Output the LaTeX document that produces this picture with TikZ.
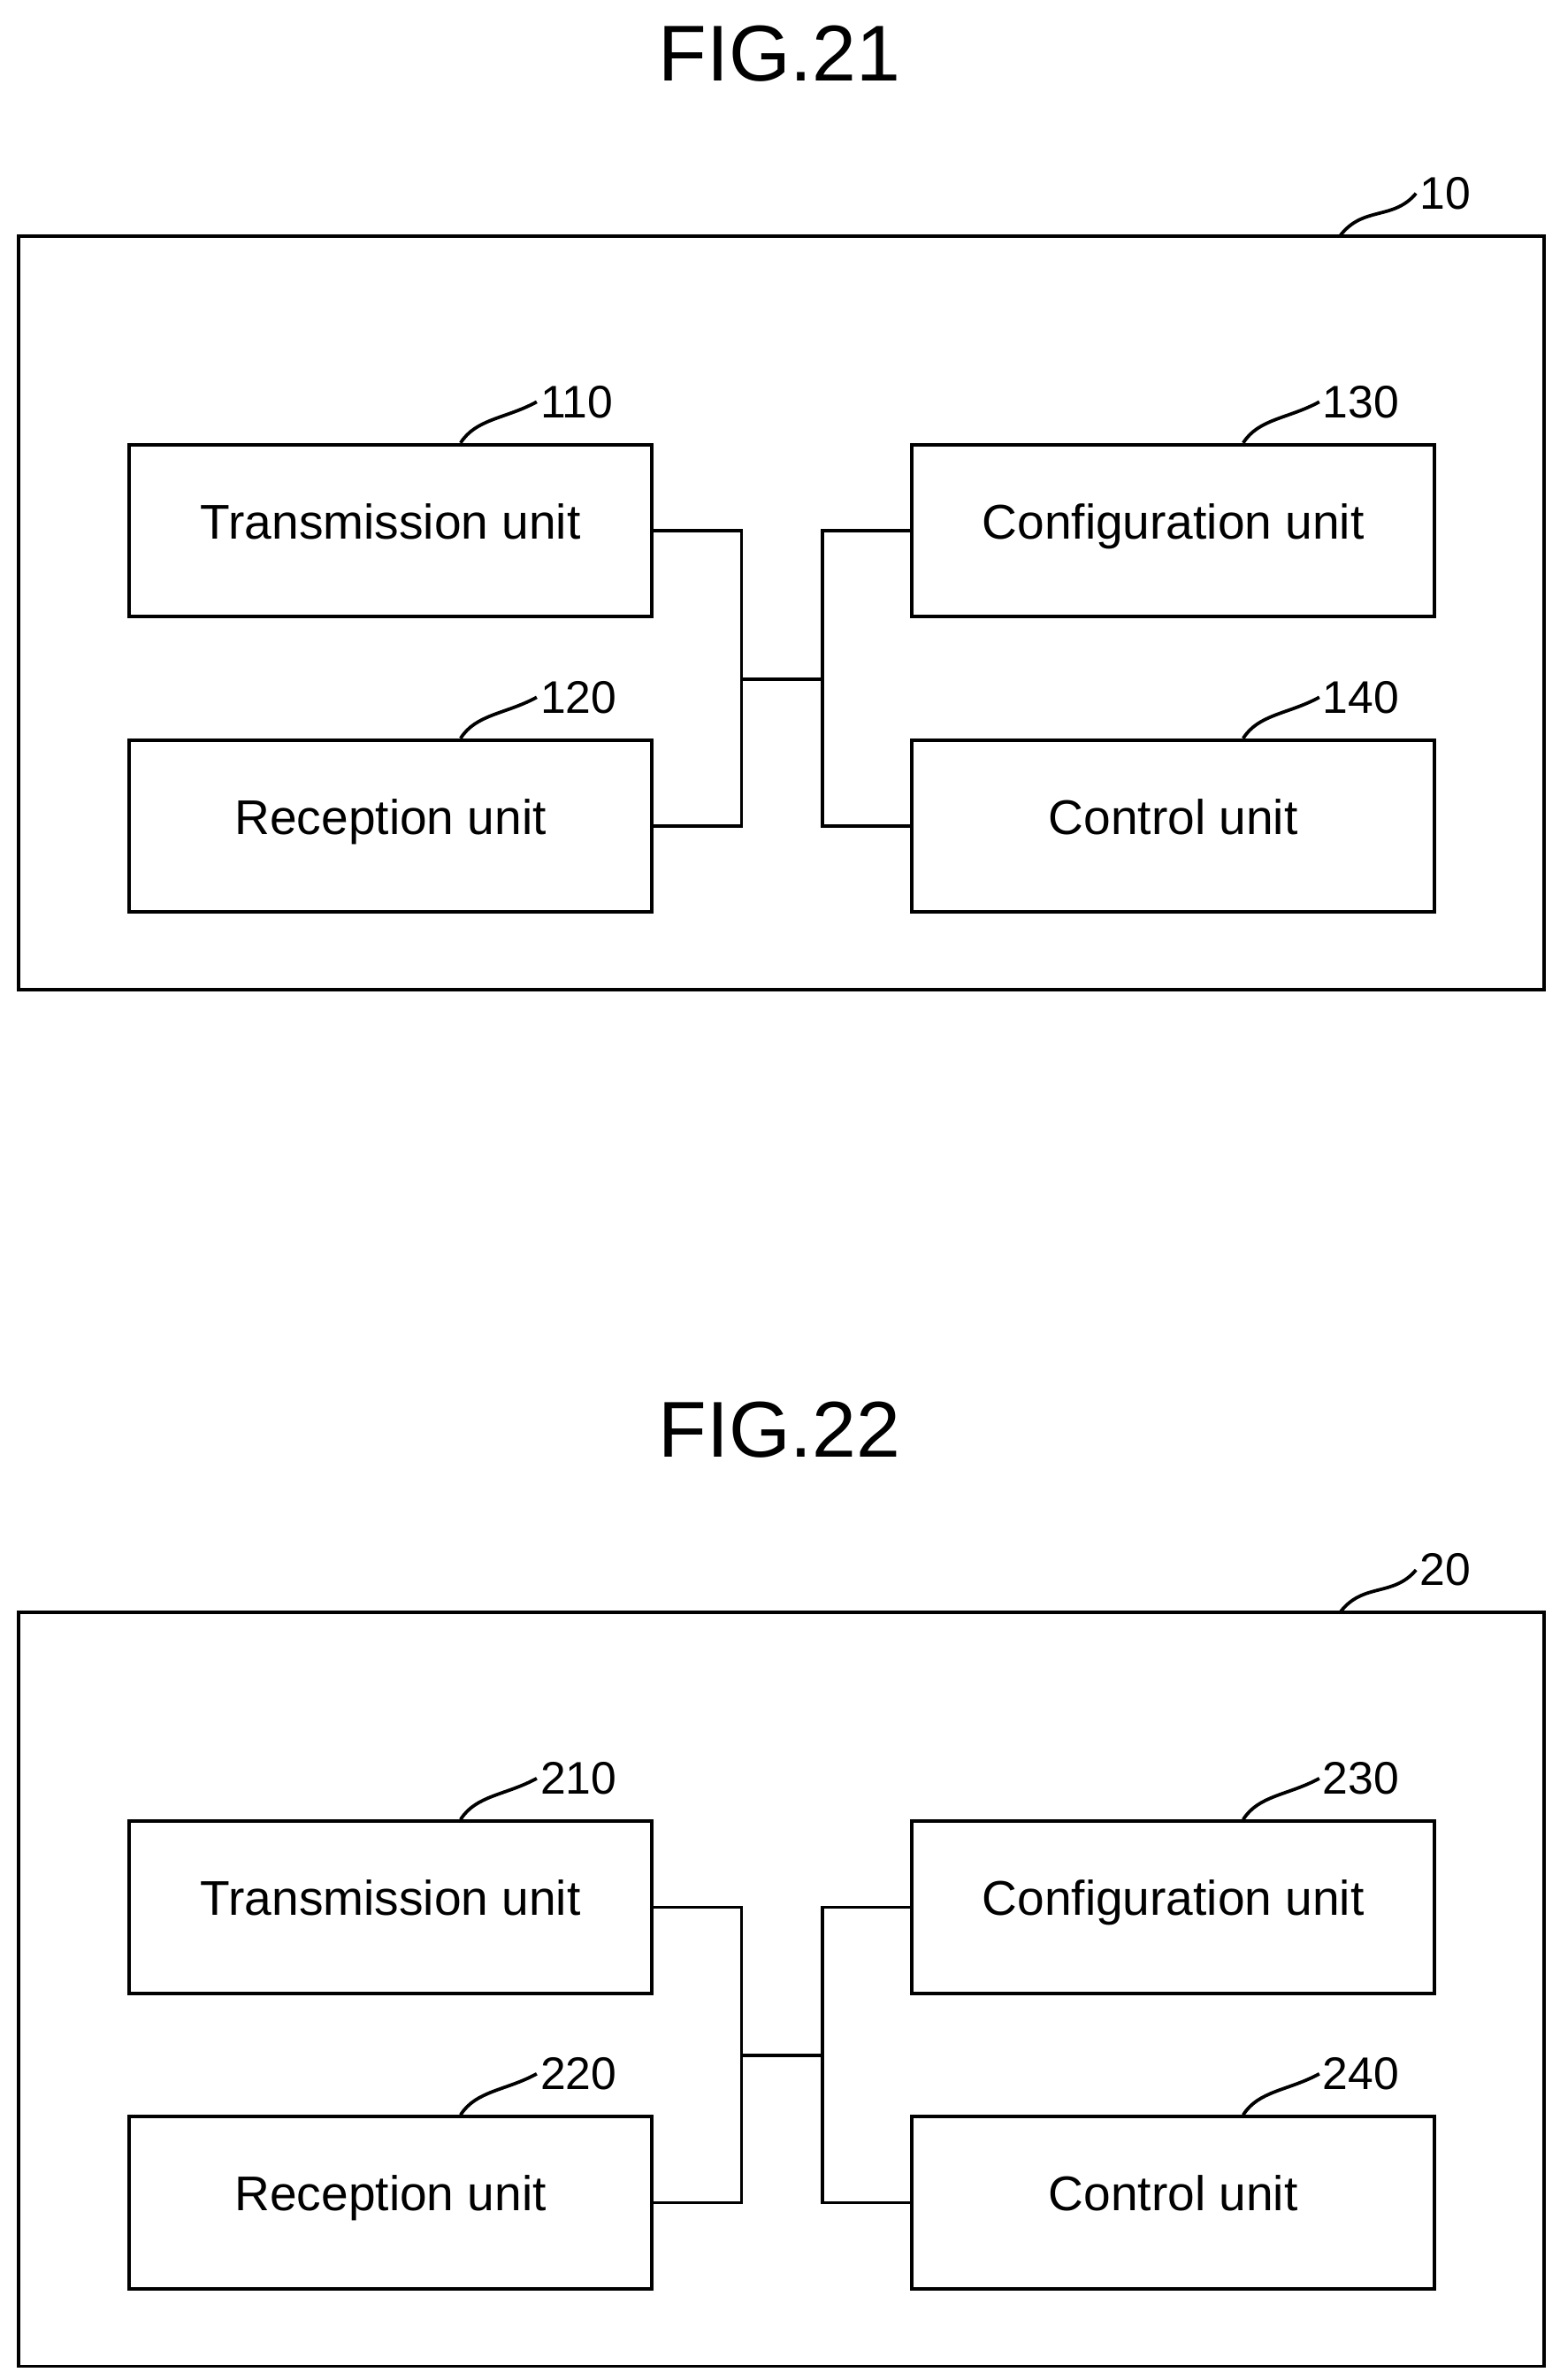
\documentclass[tikz,border=0pt]{standalone}
\usepackage{fontspec}
\setmainfont{Liberation Sans}
\begin{document}
\begin{tikzpicture}[x=0.5pt,y=-0.5pt,
  unit/.style={draw,line width=1.1pt,minimum width=171.5pt,minimum height=56.5pt,font=\fontsize{16}{18}\selectfont,inner sep=0pt,text height=0.75em,text depth=0.22em},
  outer/.style={draw,line width=1.1pt},
  wire/.style={line width=1.1pt},
  lbl/.style={font=\fontsize{15}{17}\selectfont,anchor=west,inner sep=1pt},
  title/.style={font=\fontsize{26}{30}\selectfont}]
\useasboundingbox (0,0) rectangle (1024,1563);
\foreach \dy/\a/\b/\c/\d/\o/\f in {0/110/120/130/140/10/21, 904/210/220/230/240/20/22}{
  \begin{scope}[yshift=-\dy*0.5pt]
  \node[title] (t\f) at (512,35) {FIG.\f};
  \draw[outer] (12,155) rectangle (1014,650);
  \coordinate (o\o) at (880,155);
  \node[lbl] (n\o) at (930,127) {\o};
  \draw[wire] (o\o) .. controls (895,135) and (915,145) .. (n\o.west);
  \node[unit] (u\a) at (256.5,348.5) {Transmission unit};
  \node[unit] (u\b) at (256.5,542.5) {Reception unit};
  \node[unit] (u\c) at (770.5,348.5) {Configuration unit};
  \node[unit] (u\d) at (770.5,542.5) {Control unit};
  \foreach \u in {\a,\b,\c,\d}{
    \node[lbl] (n\u) at ([xshift=48pt,yshift=13.5pt]u\u.north) {\u};
    \draw[wire] ([xshift=23pt]u\u.north) .. controls ([xshift=28pt,yshift=8pt]u\u.north) and ([xshift=38pt,yshift=8pt]u\u.north) .. (n\u.west);
  }
  \coordinate (l) at (487,446);
  \coordinate (r) at (540,446);
  \draw[wire] (u\a.east) -| (l) |- (u\b.east);
  \draw[wire] (u\c.west) -| (r) |- (u\d.west);
  \draw[wire] (l) -- (r);
  \end{scope}
}
\end{tikzpicture}
\end{document}
